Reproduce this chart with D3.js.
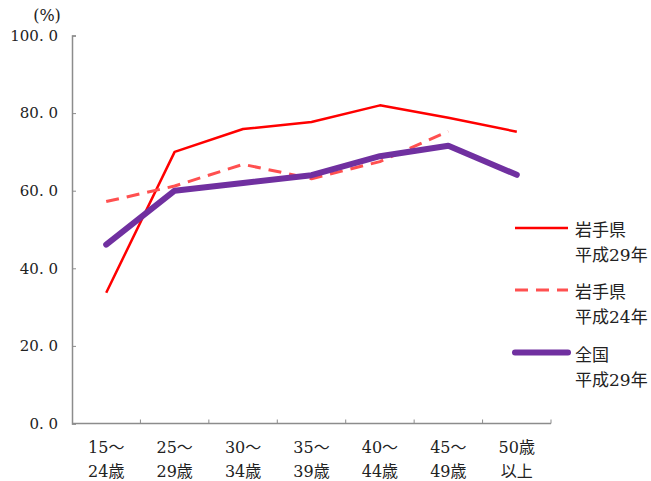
<!DOCTYPE html>
<html>
<head>
<meta charset="utf-8">
<script src="https://cdn.jsdelivr.net/npm/d3@7/dist/d3.min.js"></script>
<style>
  html, body { margin: 0; padding: 0; background: #fff; }
  svg { display: block; }
</style>
</head>
<body>
<svg id="chart" width="651" height="481"></svg>
<script>
// Age groups (two-line labels)
const categories = ["15～24歳", "25～29歳", "30～34歳", "35～39歳", "40～44歳", "45～49歳", "50歳以上"];
const categoryLines = [["15～", "24歳"], ["25～", "29歳"], ["30～", "34歳"], ["35～", "39歳"], ["40～", "44歳"], ["45～", "49歳"], ["50歳", "以上"]];

// Rates (%) by age group
const iwateH29 = [33.7, 70.0, 75.9, 77.7, 82.0, 78.8, 75.2];
const iwateH24 = [57.2, 61.2, 66.8, 63.1, 67.5, 75.3, null];
const zenkokuH29 = [46.1, 60.0, 62.0, 64.0, 68.9, 71.6, 64.1];

const yTicks = [0, 20, 40, 60, 80, 100];

const seriesNames = [["岩手県", "平成29年"], ["岩手県", "平成24年"], ["全国", "平成29年"]];

const FONT = "'DejaVu Serif', 'Liberation Serif', 'Noto Sans CJK JP', serif";
const TEXT_COLOR = "#222";

const svg = d3.select("#chart");

const x = d3.scaleBand().domain(categories).range([72, 551]);
const y = d3.scaleLinear().domain([0, 100]).range([423.5, 35.5]);

const axisColor = "#8c8c8c";

// Y axis
const yAxis = d3.axisLeft(y).tickValues(yTicks).tickSize(-4).tickPadding(14)
  .tickFormat(d => d3.format(".1f")(d).replace(".", ". "));
const gy = svg.append("g").attr("transform", "translate(72,0)").call(yAxis);
gy.select(".domain").attr("stroke", axisColor).attr("stroke-width", 1.5);
gy.selectAll(".tick line").attr("stroke", axisColor).attr("stroke-width", 1);
gy.selectAll(".tick text")
  .style("font-family", FONT).style("font-size", "15px").style("fill", TEXT_COLOR);

// X axis: ticks at band boundaries, pointing inward
const gx = svg.append("g").attr("transform", `translate(0,${y(0)})`);
gx.append("line").attr("x1", 72).attr("x2", 551).attr("stroke", axisColor).attr("stroke-width", 1.5);
const bounds = categories.map(c => x(c) + x.bandwidth());
gx.selectAll(".xt").data(bounds).join("line")
  .attr("x1", d => d).attr("x2", d => d).attr("y1", 0).attr("y2", -4)
  .attr("stroke", axisColor).attr("stroke-width", 1);
const xl = gx.selectAll(".xl").data(categoryLines).join("text")
  .attr("text-anchor", "middle")
  .style("font-family", FONT).style("font-size", "16px").style("fill", TEXT_COLOR);
xl.append("tspan").attr("y", 29).text(d => d[0]).attr("x", (d, i) => x(categories[i]) + x.bandwidth() / 2);
xl.append("tspan").attr("y", 53).text(d => d[1]).attr("x", (d, i) => x(categories[i]) + x.bandwidth() / 2);

// Unit label
svg.append("text").attr("x", 47).attr("y", 21).attr("text-anchor", "middle")
  .style("font-family", FONT).style("font-size", "16px").style("fill", TEXT_COLOR)
  .text("(%)");

const cx = c => x(c) + x.bandwidth() / 2;

const styles = [
  { data: iwateH29, color: "#ff0000", width: 2.5, dash: null, cap: "butt" },
  { data: iwateH24, color: "#ff5050", width: 3, dash: "13,8", cap: "butt" },
  { data: zenkokuH29, color: "#7030a0", width: 6, dash: null, cap: "round" }
];

const line = d3.line()
  .defined(d => d.v != null)
  .x(d => cx(d.c))
  .y(d => y(d.v));

styles.forEach(s => {
  svg.append("path")
    .datum(categories.map((c, j) => ({ c, v: s.data[j] })))
    .attr("d", line)
    .attr("fill", "none")
    .attr("stroke", s.color)
    .attr("stroke-width", s.width)
    .attr("stroke-linecap", s.cap)
    .attr("stroke-linejoin", "round")
    .attr("stroke-dasharray", s.dash);
});

// Legend
const legendY = [228, 290, 352.5];
const lg = svg.append("g");
styles.forEach((s, i) => {
  lg.append("line")
    .attr("x1", 515).attr("x2", 568)
    .attr("y1", legendY[i]).attr("y2", legendY[i])
    .attr("stroke", s.color).attr("stroke-width", s.width)
    .attr("stroke-linecap", s.cap)
    .attr("stroke-dasharray", s.dash);
  [0, 1].forEach(k => {
    lg.append("text").attr("x", 575).attr("y", legendY[i] + 8 + k * 25)
      .style("font-family", FONT).style("font-size", "17px").style("fill", TEXT_COLOR)
      .text(seriesNames[i][k]);
  });
});
</script>
</body>
</html>
